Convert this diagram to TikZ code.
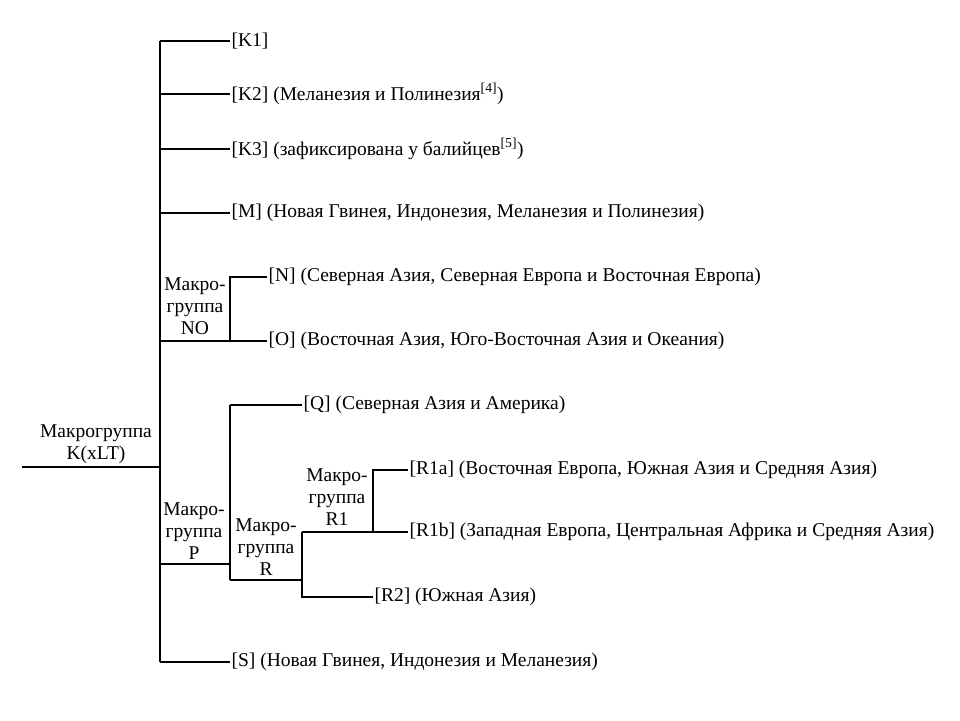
\documentclass[tikz,border=0pt]{standalone}
\usepackage{fontspec}
\setmainfont{Liberation Serif}
\usetikzlibrary{positioning}
\tikzset{
  leaf/.style={anchor=west, inner sep=1pt, font=\fontsize{19.5}{22}\selectfont},
  group/.style={align=center, inner sep=0pt, font=\fontsize{19.5}{22}\selectfont},
}
\begin{document}
\begin{tikzpicture}[x=1pt, y=-1pt, line width=1.2pt]
 \useasboundingbox (0,0) rectangle (960,720);
 % trunk K(xLT)
 \coordinate (root) at (22,467);
 \coordinate (K) at (160,467);
 \coordinate (Ktop) at (160,41);
 \coordinate (Kbot) at (160,662);
 \node [group] (Klab) at (96,444) {Макрогруппа\\K(xLT)};
 \node [leaf] (k1) at (230,41) {[K1]};
 \node [leaf] (k2) at (230,94) {[K2] (Меланезия и Полинезия\textsuperscript{[4]})};
 \node [leaf] (k3) at (230,149) {[K3] (зафиксирована у балийцев\textsuperscript{[5]})};
 \node [leaf] (m) at (230,213) {[M] (Новая Гвинея, Индонезия, Меланезия и Полинезия)};
 \node [leaf] (s) at (230,662) {[S] (Новая Гвинея, Индонезия и Меланезия)};
 % NO
 \coordinate (NO) at (230,341);
 \coordinate (NOtop) at (230,277);
 \node [group] (NOlab) at (195,306) {Макро-\\группа\\NO};
 \node [leaf] (n) at (267,277) {[N] (Северная Азия, Северная Европа и Восточная Европа)};
 \node [leaf] (o) at (267,341) {[O] (Восточная Азия, Юго-Восточная Азия и Океания)};
 % P
 \coordinate (P) at (230,564);
 \coordinate (Ptop) at (230,405);
 \coordinate (Pbot) at (230,580);
 \node [group] (Plab) at (194,531) {Макро-\\группа\\P};
 \node [leaf] (q) at (302,405) {[Q] (Северная Азия и Америка)};
 % R
 \coordinate (Rtop) at (302,532);
 \coordinate (Rbot) at (302,597);
 \node [group] (Rlab) at (266,547) {Макро-\\группа\\R};
 \node [leaf] (r2) at (373,597) {[R2] (Южная Азия)};
 % R1
 \coordinate (R1top) at (373,470);
 \coordinate (R1bot) at (373,532);
 \node [group] (R1lab) at (337,497) {Макро-\\группа\\R1};
 \node [leaf] (r1a) at (408,470) {[R1a] (Восточная Европа, Южная Азия и Средняя Азия)};
 \node [leaf] (r1b) at (408,532) {[R1b] (Западная Европа, Центральная Африка и Средняя Азия)};

 \draw (root) -- (K);
 \draw (Ktop) -- (Kbot);
 \draw (Ktop) -- (k1.west);
 \draw (K |- k2.west) -- (k2.west);
 \draw (K |- k3.west) -- (k3.west);
 \draw (K |- m.west) -- (m.west);
 \draw (Kbot) -- (s.west);
 \draw (K |- NO) -- (NO) -- (NOtop) -- (n.west);
 \draw (NO) -- (o.west);
 \draw (K |- P) -- (P);
 \draw (Ptop) -- (Pbot);
 \draw (Ptop) -- (q.west);
 \draw (Pbot) -- (Pbot -| Rtop);
 \draw (Rtop) -- (Rbot) -- (r2.west);
 \draw (Rtop) -- (R1bot) -- (R1top) -- (r1a.west);
 \draw (R1bot) -- (r1b.west);
\end{tikzpicture}
\end{document}
